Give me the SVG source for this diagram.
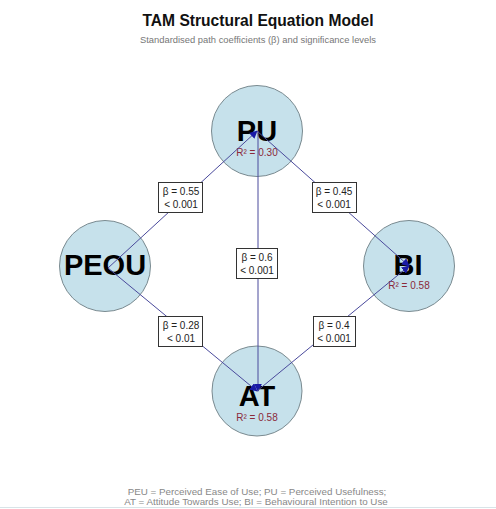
<svg xmlns="http://www.w3.org/2000/svg" width="496" height="509" viewBox="0 0 496 509">
  <style>
    .title { font-family: "Liberation Sans", Arial, sans-serif; font-weight: bold; font-size: 15.6px; fill: #111; text-anchor: middle; }
    .sub { font-family: "Liberation Sans", Arial, sans-serif; font-size: 9.4px; fill: #777; text-anchor: middle; }
    .foot { font-family: "Liberation Sans", Arial, sans-serif; font-size: 9.8px; fill: #888; text-anchor: middle; }
    .node circle { fill: #c6e1eb; stroke: #7a8a90; stroke-width: 1; }
    .name { font-family: "Liberation Sans", Arial, sans-serif; font-weight: bold; font-size: 29px; fill: #000; text-anchor: middle; }
    .r2 { font-family: "Liberation Sans", Arial, sans-serif; font-size: 10px; fill: #8b2a3a; text-anchor: middle; }
    .edge { stroke: #4a4a9c; stroke-width: 1; fill: none; marker-end: url(#head); }
    .lab rect { fill: #fff; stroke: #333; stroke-width: 1; }
    .lab text { font-family: "Liberation Sans", Arial, sans-serif; font-size: 10px; fill: #222; text-anchor: middle; }
  </style>
  <defs>
    <marker id="head" viewBox="0 0 10 10" refX="9" refY="5" markerWidth="8" markerHeight="8" orient="auto" markerUnits="userSpaceOnUse">
      <path d="M0,0 L10,5 L0,10 z" fill="#1a1aa6"/>
    </marker>
  </defs>

  <rect width="496" height="509" fill="#fff"/>

  <text class="title" x="258" y="26">TAM Structural Equation Model</text>
  <text class="sub" x="258" y="43">Standardised path coefficients (β) and significance levels</text>

  <!-- nodes -->
  <g id="node-PU" class="node">
    <circle cx="257" cy="131" r="45.5"/>
    <text class="name" x="257" y="141">PU</text>
    <text class="r2" x="257" y="156">R² = 0.30</text>
  </g>
  <g id="node-PEOU" class="node">
    <circle cx="105" cy="266" r="45.5"/>
    <text class="name" x="105" y="275">PEOU</text>
  </g>
  <g id="node-BI" class="node">
    <circle cx="409" cy="266" r="45.5"/>
    <text class="name" x="408" y="275">BI</text>
    <text class="r2" x="409" y="289">R² = 0.58</text>
  </g>
  <g id="node-AT" class="node">
    <circle cx="257" cy="391" r="45"/>
    <text class="name" x="257" y="406">AT</text>
    <text class="r2" x="257" y="421">R² = 0.58</text>
  </g>

  <!-- connectors -->
  <g id="edges">
    <line class="edge" x1="108" y1="268" x2="257" y2="131"/>
    <line class="edge" x1="257" y1="131" x2="409" y2="266"/>
    <line class="edge" x1="258" y1="131" x2="258" y2="391"/>
    <line class="edge" x1="108" y1="268" x2="257" y2="391"/>
    <line class="edge" x1="257" y1="391" x2="409" y2="266"/>
  </g>

  <!-- path labels -->
  <g id="labels">
    <g class="lab">
      <rect x="158.5" y="182.5" width="44" height="30"/>
      <text x="181" y="195">β = 0.55</text>
      <text x="181" y="208">&lt; 0.001</text>
    </g>
    <g class="lab">
      <rect x="312.5" y="182.5" width="44" height="30"/>
      <text x="334" y="195">β = 0.45</text>
      <text x="334" y="208">&lt; 0.001</text>
    </g>
    <g class="lab">
      <rect x="236.5" y="248.5" width="41" height="30"/>
      <text x="257" y="261">β = 0.6</text>
      <text x="257" y="274">&lt; 0.001</text>
    </g>
    <g class="lab">
      <rect x="158.5" y="316.5" width="44" height="30"/>
      <text x="181" y="329">β = 0.28</text>
      <text x="181" y="342">&lt; 0.01</text>
    </g>
    <g class="lab">
      <rect x="313.5" y="316.5" width="42" height="30"/>
      <text x="334" y="329">β = 0.4</text>
      <text x="334" y="342">&lt; 0.001</text>
    </g>
  </g>

  <text class="foot" x="257" y="495">PEU = Perceived Ease of Use; PU = Perceived Usefulness;</text>
  <text class="foot" x="256" y="505">AT = Attitude Towards Use; BI = Behavioural Intention to Use</text>
  <line x1="0" y1="507.5" x2="496" y2="507.5" stroke="#d8e4e8" stroke-width="1"/>
</svg>
